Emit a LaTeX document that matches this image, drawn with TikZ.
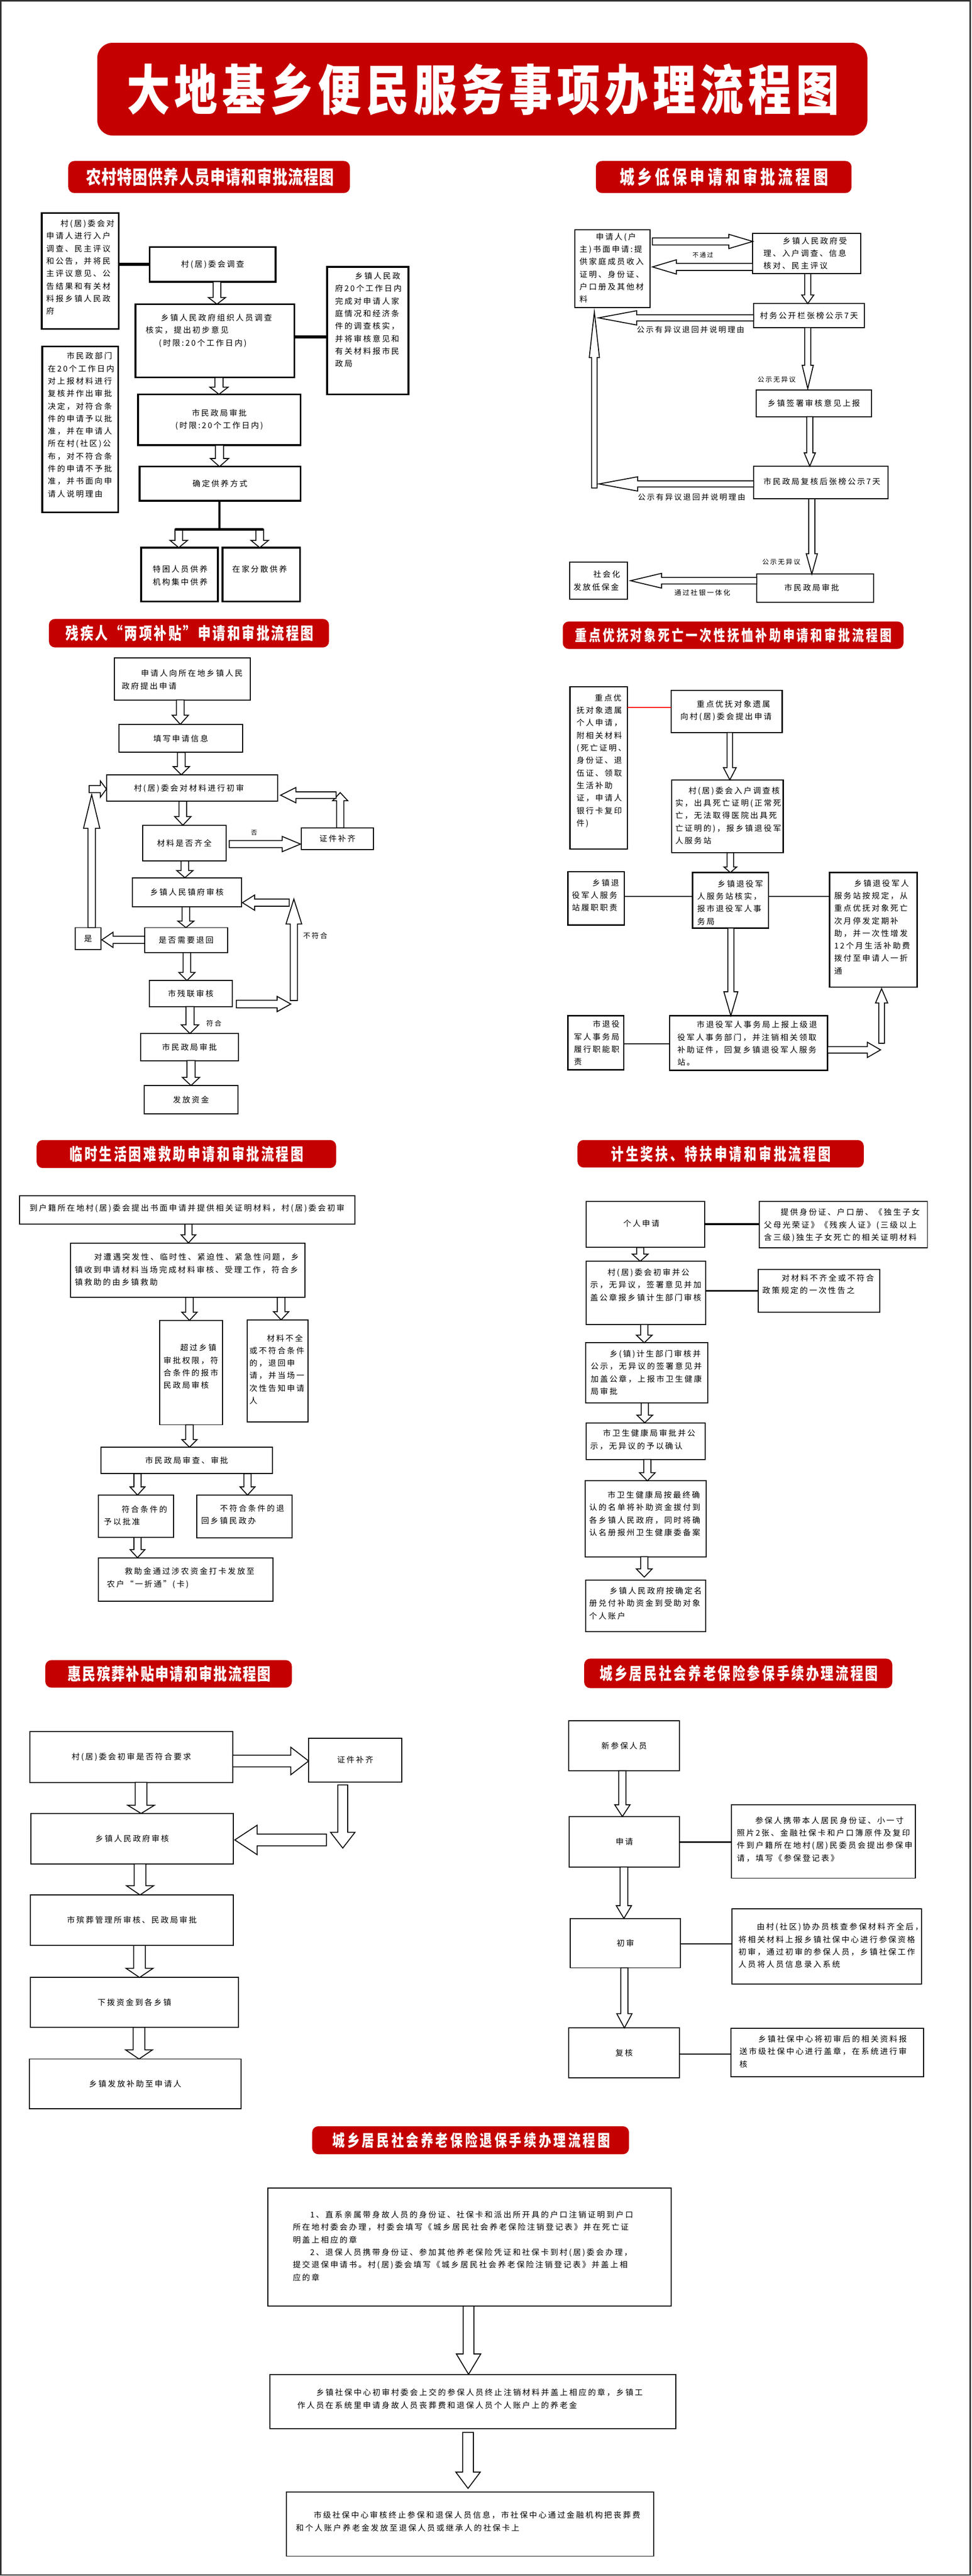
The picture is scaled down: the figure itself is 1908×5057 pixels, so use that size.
\documentclass[tikz,border=0pt]{standalone}
\usepackage{graphicx}
\usepackage{fontspec}
\setmainfont{Noto Sans CJK SC}
\newfontfamily\bodyf{Noto Sans CJK SC}[LetterSpace=18.7]
\newfontfamily\headf{Noto Sans CJK SC}
\usetikzlibrary{calc}
\definecolor{bred}{RGB}{196,0,0}
\definecolor{framec}{RGB}{50,50,50}
\newcommand\bodyfont{\bodyf\fontsize{15.5}{24.6}\selectfont}
\newcommand\lblfont[1]{\bodyf\fontsize{#1}{#1}\selectfont}
\def\spreadit#1{\spreadA#1\relax}
\def\spreadA#1{#1\spreadB}
\def\spreadB#1{\ifx\relax#1\else\hfil#1\expandafter\spreadB\fi}
\tikzset{
  box/.style={draw, line width=2pt, fill=white, inner sep=0pt, outer sep=0pt, anchor=north west, font=\bodyfont, align=center},
  box1/.style={line width=3.5pt},
  box4/.style={line width=2.5pt},
  txt/.style={inner sep=0pt, outer sep=0pt, align=left, anchor=north west, font=\bodyfont},
  lbl/.style={inner sep=0pt, outer sep=0pt},
  banner/.style={fill=bred, draw=none, rounded corners=12pt, inner sep=0pt, outer sep=0pt, anchor=north west},
  harrow/.style={draw=black, fill=white, line width=1.8pt, line join=miter},
  thickline/.style={line width=6pt},
  midline/.style={line width=3.5pt},
  thinline/.style={line width=2pt}
}
\newcommand\bx[7][]{\node[box,#1,minimum width={#5-#3},minimum height={#6-#4}] (#2) at (#3,#4) {#7};}
\newcommand\tx[3]{\node[txt] at (#1,{#2-8}) {\rule{0pt}{0.88em}#3};}
\newcommand\banner[6][]{\node[banner,#1,minimum width={#5-#3},minimum height={#6-#4}] (#2) at (#3,#4) {};}
\newcommand\btitle[6]{%
  \pgfmathsetlengthmacro\bw{(#2-#1)/#5}%
  \node[text=white, inner sep=0pt] at ({(#1+#2)/2},#3) {\scalebox{#5}[1]{\headf\bfseries\fontsize{#4}{#4}\selectfont\makebox[\bw][s]{\spreadit{#6}}}};}
\newcommand\hollow[5]{%
  \coordinate (hS) at #1; \coordinate (hT) at #2;
  \coordinate (hN) at ($(hT)!#5pt!(hS)$);
  \draw[harrow] ($(hS)!#3pt!90:(hT)$) -- ($(hN)!#3pt!90:(hT)$) -- ($(hN)!#4pt!90:(hT)$) -- (hT) -- ($(hN)!#4pt!-90:(hT)$) -- ($(hN)!#3pt!-90:(hT)$) -- ($(hS)!#3pt!-90:(hT)$) -- cycle;}
\begin{document}
\begin{tikzpicture}[x=1pt,y=-1pt]
\useasboundingbox (0,0) rectangle (1908,5057);
\draw[framec, line width=2.5pt] (1.5,1.5) rectangle (1905,5055);

% main title
\banner[rounded corners=30pt]{T0}{191}{84}{1703}{266}
\btitle{249}{1648}{175}{106}{0.8}{大地基乡便民服务事项办理流程图}

% ================= Section 1
\banner{T1}{134}{316}{687}{379}
\btitle{169}{656}{347.5}{37}{0.79}{农村特困供养人员申请和审批流程图}
\bx[box1]{A1}{82}{418}{233}{646}{}
\tx{91}{439}{\hspace*{28pt}村(居)委会对\\申请人进行入户\\调查、民主评议\\和公告，并将民\\主评议意见、公\\告结果和有关材\\料报乡镇人民政\\府}
\bx[box1]{B1}{294}{485}{541}{553}{村(居)委会调查}
\bx[box1]{C1}{266}{597}{578}{741}{}
\tx{286}{624}{\hspace*{30pt}乡镇人民政府组织人员调查\\核实，提出初步意见\\\hspace*{26pt}(时限:20个工作日内)}
\bx[box1]{D1}{642}{524}{802}{774}{}
\tx{658}{542}{\hspace*{39pt}乡镇人民政\\府20个工作日内\\完成对申请人家\\庭情况和经济条\\件的调查核实，\\并将审核意见和\\有关材料报市民\\政局}
\bx[box1]{E1}{83}{680}{232}{1006}{}
\tx{94}{699}{\hspace*{37pt}市民政部门\\在20个工作日内\\对上报材料进行\\复核并作出审批\\决定，对符合条\\件的申请予以批\\准，并在申请人\\所在村(社区)公\\布，对不符合条\\件的申请不予批\\准，并书面向申\\请人说明理由}
\bx[box1]{F1}{271}{774}{590}{874}{市民政局审批\\(时限:20个工作日内)}
\bx[box1]{G1}{274}{916}{590}{983}{确定供养方式}
\bx[box1]{H1}{277}{1075}{428}{1181}{}
\tx{300}{1118}{特困人员供养\\机构集中供养}
\bx[box1]{I1}{437}{1075}{589}{1181}{}
\tx{456}{1117}{在家分散供养}
\draw[thickline] (A1.east|-B1.west) -- (B1.west);
\draw[thickline] (C1.east|-0,661) -- (D1.west|-0,661);
\hollow{(426,0|-B1.south)}{(426,0|-C1.north)}{7.5}{17}{13}
\hollow{(430,0|-C1.south)}{(430,0|-F1.north)}{8}{18}{14}
\hollow{(431,0|-F1.south)}{(431,0|-G1.north)}{8}{18}{16}
\coordinate (bar) at (431,1039);
\coordinate (barL) at (344,1039);
\coordinate (barR) at (517,1039);
\coordinate (sL) at (351,1039);
\coordinate (sR) at (510,1039);
\hollow{(sL)}{(351,0|-H1.north)}{7.5}{17}{14}
\hollow{(sR)}{(510,0|-I1.north)}{7.5}{17}{14}
\draw[line width=4.5pt] (G1.south-|bar) -- (bar);
\draw[line width=4.5pt] (barL) -- (barR);

% ================= Section 2
\banner{T2}{1170}{316}{1672}{379}
\btitle{1217}{1626}{347.5}{37}{0.78}{城乡低保申请和审批流程图}
\bx{A2}{1129}{451}{1276}{604}{}
\tx{1138}{465}{\hspace*{32pt}申请人(户\\主)书面申请:提\\供家庭成员收入\\证明、身份证、\\户口册及其他材\\料}
\bx{B2}{1478}{458}{1690}{537}{}
\tx{1499}{473}{\hspace*{38pt}乡镇人民政府受\\理、入户调查、信息\\核对、民主评议}
\bx{C2}{1480}{596}{1697}{643}{村务公开栏张榜公示7天}
\bx{D2}{1485}{766}{1711}{818}{乡镇签署审核意见上报}
\bx{E2}{1480}{915}{1744}{979}{}
\tx{1499}{946}{市民政局复核后张榜公示7天}
\bx{F2}{1486}{1127}{1715}{1182}{}
\tx{1540}{1154}{市民政局审批}
\bx{G2}{1119}{1103}{1232}{1176}{}
\tx{1126}{1128}{\hspace*{39pt}社会化\\发放低保金}
\hollow{($(A2.east|-0,474)+(5,0)$)}{(B2.west|-0,474)}{7}{14}{47}
\hollow{(B2.west|-0,524)}{($(A2.east|-0,524)+(5,0)$)}{7}{14}{47}
\node[lbl] (L21) at (1380,501) {\lblfont{12}不通过};
\hollow{(1586,0|-B2.south)}{(1586,0|-C2.north)}{6}{12}{17}
\hollow{(1167,958)}{($(1167,0|-A2.south)+(0,8)$)}{5.5}{10}{90}
\hollow{(C2.west|-0,624)}{(1175,624)}{6}{14}{75}
\node[lbl] (L22) at (1356,647) {\lblfont{15}公示有异议退回并说明理由};
\hollow{(1586,0|-C2.south)}{($(1586,0|-D2.north)+(0,-3)$)}{6}{11}{46}
\node[lbl] (L23) at (1525,745) {\lblfont{13}公示无异议};
\hollow{(1590,0|-D2.south)}{(1590,0|-E2.north)}{6}{11}{26}
\hollow{(E2.west|-0,950)}{(1176,950)}{6}{14}{76}
\node[lbl] (L24) at (1358,976) {\lblfont{15}公示有异议退回并说明理由};
\hollow{(1594,0|-E2.south)}{(1594,0|-F2.north)}{6}{11}{40}
\node[lbl] (L25) at (1534,1103) {\lblfont{13}公示无异议};
\hollow{(F2.west|-0,1140)}{($(G2.east|-0,1140)+(6,0)$)}{6.5}{14.5}{61}
\node[lbl] (L26) at (1379,1164) {\lblfont{13.5}通过社银一体化};

% ================= Section 3
\banner{T3}{96}{1215}{646}{1271}
\btitle{129}{616}{1243}{33}{0.77}{残疾人“两项补贴”申请和审批流程图}
\bx{A3}{225}{1292}{492}{1374}{}
\tx{239}{1322}{\hspace*{38pt}申请人向所在地乡镇人民\\政府提出申请}
\bx{B3}{234}{1422}{476}{1477}{填写申请信息}
\bx{C3}{209}{1521}{545}{1573}{}
\tx{263}{1547}{村(居)委会对材料进行初审}
\bx{D3}{280}{1620}{444}{1690}{材料是否齐全}
\bx{E3}{592}{1625}{733}{1668}{证件补齐}
\bx{F3}{260}{1723}{474}{1780}{乡镇人民镇府审核}
\bx{G3}{284}{1821}{447}{1870}{是否需要退回}
\bx{H3}{148}{1821}{198}{1864}{是}
\bx{I3}{293}{1925}{456}{1976}{市残联审核}
\bx{J3}{276}{2029}{468}{2082}{市民政局审批}
\bx{K3}{283}{2131}{467}{2187}{发放资金}
\hollow{(354,0|-A3.south)}{(354,0|-B3.north)}{7.5}{16}{18}
\hollow{(356,0|-B3.south)}{(356,0|-C3.north)}{7.5}{16}{16}
\hollow{(359,0|-C3.south)}{(359,0|-D3.north)}{7.5}{16}{17}
\hollow{($(D3.east)+(6,2)$)}{($(E3.west|-D3.east)+(-2,2)$)}{7}{15}{36}
\node[lbl] (L31) at (499,1635) {\lblfont{12}否};
\hollow{(668,0|-E3.north)}{(668,1556)}{7}{15}{16}
\hollow{(660,1561)}{($(C3.east|-0,1561)+(6,0)$)}{6.5}{15}{30}
\hollow{(363,0|-D3.south)}{(363,0|-F3.north)}{7.5}{16}{14}
\hollow{(365,0|-F3.south)}{(365,0|-G3.north)}{7.5}{16}{13}
\hollow{(G3.west|-0,1845)}{($(H3.east|-0,1845)+(2,0)$)}{7}{15}{22}
\hollow{(180,0|-H3.north)}{(180,1560)}{7.3}{16}{66}
\hollow{(175,1549)}{(C3.west|-0,1549)}{7}{16}{12}
\hollow{(367,0|-G3.south)}{(367,0|-I3.north)}{7.5}{16}{16}
\hollow{(577,1964)}{(577,1765)}{7}{15.5}{49}
\hollow{($(I3.east|-0,1971)+(8,0)$)}{(571,1971)}{7.5}{15}{27}
\hollow{(568,1772)}{($(F3.east|-0,1772)+(2,0)$)}{7}{15}{24}
\node[lbl] (L32) at (619,1837) {\lblfont{14}不符合};
\hollow{(373,0|-I3.south)}{(373,0|-J3.north)}{8}{17}{17}
\node[lbl] (L33) at (420,2009) {\lblfont{13.5}符合};
\hollow{(375,0|-J3.south)}{(375,0|-K3.north)}{8}{17}{16}

% ================= Section 4
\banner{T4}{1105}{1220}{1774}{1274}
\btitle{1129}{1751}{1247}{30}{0.77}{重点优抚对象死亡一次性抚恤补助申请和审批流程图}
\bx[box4]{A4}{1119}{1348}{1232}{1667}{}
\tx{1132}{1370}{\hspace*{36pt}重点优\\抚对象遗属\\个人申请，\\附相关材料\\(死亡证明、\\身份证、退\\伍证、领取\\生活补助\\证，申请人\\银行卡复印\\件)}
\bx[box4]{B4}{1318}{1355}{1536}{1438}{}
\tx{1336}{1382}{\hspace*{32pt}重点优抚对象遗属\\向村(居)委会提出申请}
\bx[box4]{C4}{1319}{1531}{1538}{1674}{}
\tx{1326}{1552}{\hspace*{26pt}村(居)委会入户调查核\\实，出具死亡证明(正常死\\亡，无法取得医院出具死\\亡证明的)，报乡镇退役军\\人服务站}
\bx[box4]{D4}{1360}{1713}{1509}{1822}{}
\tx{1369}{1735}{\hspace*{40pt}乡镇退役军\\人服务站核实，\\报市退役军人事\\务局}
\bx[box4]{E4}{1115}{1711}{1226}{1816}{}
\tx{1123}{1733}{\hspace*{40pt}乡镇退\\役军人服务\\站履职职责}
\bx[box4]{F4}{1629}{1713}{1801}{1938}{}
\tx{1638}{1734}{\hspace*{39pt}乡镇退役军人\\服务站按规定，从\\重点优抚对象死亡\\次月停发定期补\\助，并一次性增发\\12个月生活补助费\\拨付至申请人一折\\通}
\bx[box4]{G4}{1315}{1994}{1625}{2101}{}
\tx{1330}{2012}{\hspace*{38pt}市退役军人事务局上报上级退\\役军人事务部门，并注销相关领取\\补助证件，回复乡镇退役军人服务\\站。}
\bx[box4]{H4}{1115}{1994}{1225}{2100}{}
\tx{1127}{2011}{\hspace*{37pt}市退役\\军人事务局\\履行职能职\\责}
\draw[red, line width=2pt] (A4.east|-0,1389) -- (B4.west|-0,1389);
\draw[thinline] (E4.east|-0,1760) -- (D4.west|-0,1760);
\draw[thinline] (D4.east|-0,1760) -- (F4.west|-0,1760);
\draw[thinline] (H4.east|-0,2049) -- (G4.west|-0,2049);
\hollow{(1433,0|-B4.south)}{(1433,0|-C4.north)}{5.5}{12.5}{24}
\hollow{(1434,0|-C4.south)}{(1434,0|-D4.north)}{6.4}{12.5}{11}
\hollow{(1435,0|-D4.south)}{(1435,0|-G4.north)}{6}{13.7}{47}
\hollow{(1731,2048)}{($(1731,0|-F4.south)+(0,3)$)}{5.5}{12}{28}
\hollow{(G4.east|-0,2061)}{(1729,2061)}{6.4}{15}{26}

% ================= Section 5
\banner{T5}{72}{2238}{660}{2293}
\btitle{137}{596}{2265.5}{33}{0.76}{临时生活困难救助申请和审批流程图}
\bx{A5}{38}{2347}{697}{2403}{}
\tx{58}{2372}{到户籍所在地村(居)委会提出书面申请并提供相关证明材料，村(居)委会初审}
\bx{B5}{139}{2440}{599}{2547}{}
\tx{147}{2468}{\hspace*{38pt}对遭遇突发性、临时性、紧迫性、紧急性问题，乡\\镇收到申请材料当场完成材料审核、受理工作，符合乡\\镇救助的由乡镇救助}
\bx{C5}{314}{2592}{437}{2797}{}
\tx{321}{2646}{\hspace*{33pt}超过乡镇\\审批权限，符\\合条件的报市\\民政局审核}
\bx{D5}{485}{2591}{605}{2791}{}
\tx{490}{2627}{\hspace*{34pt}材料不全\\或不符合条件\\的，退回申\\请，并当场一\\次性告知申请\\人}
\bx{E5}{198}{2841}{535}{2893}{市民政局审查、审批}
\bx{F5}{193}{2935}{341}{3018}{}
\tx{204}{2963}{\hspace*{35pt}符合条件的\\予以批准}
\bx{G5}{386}{2935}{573}{3019}{}
\tx{395}{2961}{\hspace*{37pt}不符合条件的退\\回乡镇民政办}
\bx{H5}{193}{3058}{536}{3143}{}
\tx{210}{3085}{\hspace*{35pt}救助金通过涉农资金打卡发放至\\农户“一折通”(卡)}
\hollow{(370,0|-A5.south)}{(370,0|-B5.north)}{7}{14.5}{16}
\hollow{(372,0|-B5.south)}{(372,0|-C5.north)}{7.5}{15}{16}
\hollow{(552,0|-B5.south)}{(552,0|-D5.north)}{7.5}{15}{16}
\hollow{(372,0|-C5.south)}{(372,0|-E5.north)}{7.5}{15}{15}
\hollow{(270,0|-E5.south)}{(270,0|-F5.north)}{7}{14.6}{16}
\hollow{(486,0|-E5.south)}{(486,0|-G5.north)}{7}{14.6}{16}
\hollow{(270,0|-F5.south)}{(270,0|-H5.north)}{7}{14.6}{16}

% ================= Section 6
\banner{T6}{1134}{2238}{1696}{2292}
\btitle{1200}{1631}{2265}{33}{0.75}{计生奖扶、特扶申请和审批流程图}
\bx{A6}{1151}{2359}{1384}{2449}{}
\tx{1224}{2402}{个人申请}
\bx{B6}{1491}{2359}{1821}{2450}{}
\tx{1500}{2380}{\hspace*{33pt}提供身份证、户口册、《独生子女\\父母光荣证》《残疾人证》(三级以上\\含三级)独生子女死亡的相关证明材料}
\bx{C6}{1151}{2476}{1386}{2600}{}
\tx{1159}{2498}{\hspace*{34pt}村(居)委会初审并公\\示，无异议，签署意见并加\\盖公章报乡镇计生部门审核}
\bx{D6}{1489}{2492}{1727}{2576}{}
\tx{1497}{2509}{\hspace*{38pt}对材料不齐全或不符合\\政策规定的一次性告之}
\bx{E6}{1150}{2636}{1390}{2754}{}
\tx{1160}{2658}{\hspace*{37pt}乡(镇)计生部门审核并\\公示，无异议的签署意见并\\加盖公章，上报市卫生健康\\局审批}
\bx{F6}{1151}{2793}{1385}{2865}{}
\tx{1159}{2814}{\hspace*{25pt}市卫生健康局审批并公\\示，无异议的予以确认}
\bx{G6}{1149}{2907}{1387}{3056}{}
\tx{1157}{2935}{\hspace*{36pt}市卫生健康局按最终确\\认的名单将补助资金拔付到\\各乡镇人民政府，同时将确\\认名册报州卫生健康委备案}
\bx{H6}{1150}{3102}{1386}{3203}{}
\tx{1157}{3123}{\hspace*{40pt}乡镇人民政府按确定名\\册兑付补助资金到受助对象\\个人账户}
\draw[midline] (A6.east|-0,2403) -- (B6.west|-0,2403);
\draw[midline] (C6.east|-0,2534) -- (D6.west|-0,2534);
\hollow{(1257,0|-A6.south)}{(1257,0|-C6.north)}{7}{15.5}{14}
\hollow{(1265,0|-C6.south)}{(1265,0|-E6.north)}{7}{15.5}{15}
\hollow{(1266,0|-E6.south)}{(1266,0|-F6.north)}{7}{15.5}{15}
\hollow{(1271,0|-F6.south)}{(1271,0|-G6.north)}{7}{15.5}{16}
\hollow{(1265,0|-G6.south)}{($(1265,0|-H6.north)+(0,-6)$)}{7}{15.5}{16}

% ================= Section 7
\banner{T7}{89}{3259}{573}{3313}
\btitle{133}{532}{3286}{33}{0.8}{惠民殡葬补贴申请和审批流程图}
\bx{A7}{59}{3399}{457}{3499}{村(居)委会初审是否符合要求}
\bx{B7}{606}{3412}{789}{3498}{证件补齐}
\bx{C7}{61}{3560}{458}{3659}{乡镇人民政府审核}
\bx{D7}{60}{3720}{458}{3819}{市殡葬管理所审核、民政局审批}
\bx{E7}{60}{3882}{468}{3980}{下拨资金到各乡镇}
\bx{F7}{58}{4042}{473}{4140}{乡镇发放补助至申请人}
\hollow{(A7.east|-0,3457)}{(B7.west|-0,3457)}{11.5}{27}{35}
\hollow{($(673,0|-B7.south)+(0,6)$)}{(673,3628)}{9.7}{24}{31}
\hollow{(641,3612)}{($(C7.east|-0,3612)+(3,0)$)}{11.5}{29}{44}
\hollow{(277,0|-A7.south)}{(277,0|-C7.north)}{11.5}{26}{16}
\hollow{(275,0|-C7.south)}{(275,0|-D7.north)}{11.5}{26.5}{18}
\hollow{(274,0|-D7.south)}{(274,0|-E7.north)}{11.5}{26.5}{18}
\hollow{(273,0|-E7.south)}{(273,0|-F7.north)}{11.5}{26.5}{18}

% ================= Section 8
\banner{T8}{1147}{3256}{1752}{3314}
\btitle{1178}{1724}{3285}{33}{0.76}{城乡居民社会养老保险参保手续办理流程图}
\bx{A8}{1117}{3378}{1334}{3476}{新参保人员}
\bx{B8}{1118}{3566}{1334}{3665}{申请}
\bx{C8}{1436}{3543}{1797}{3687}{}
\tx{1447}{3574}{\hspace*{36pt}参保人携带本人居民身份证、小一寸\\照片2张、金融社保卡和户口簿原件及复印\\件到户籍所在地村(居)民委员会提出参保申\\请，填写《参保登记表》}
\bx{D8}{1120}{3766}{1336}{3863}{初审}
\bx{E8}{1437}{3747}{1809}{3895}{}
\tx{1450}{3783}{\hspace*{36pt}由村(社区)协办员核查参保材料齐全后，\\将相关材料上报乡镇社保中心进行参保资格\\初审，通过初审的参保人员，乡镇社保工作\\人员将人员信息录入系统}
\bx{F8}{1117}{3981}{1334}{4079}{复核}
\bx{G8}{1435}{3982}{1813}{4077}{}
\tx{1452}{4003}{\hspace*{37pt}乡镇社保中心将初审后的相关资料报\\送市级社保中心进行盖章，在系统进行审\\核}
\draw[midline] (B8.east|-0,3616) -- (C8.west|-0,3616);
\draw[thinline] (D8.east|-0,3816) -- (E8.west|-0,3816);
\draw[thinline] (F8.east|-0,4032) -- (G8.west|-0,4032);
\hollow{(1222,0|-A8.south)}{(1222,0|-B8.north)}{7}{15}{23}
\hollow{(1225,0|-B8.south)}{(1225,0|-D8.north)}{7.6}{15}{25}
\hollow{(1226,0|-D8.south)}{(1226,0|-F8.north)}{7}{15}{28}

% ================= Section 9
\banner{T9}{613}{4174}{1235}{4229}
\btitle{653}{1198}{4201.5}{32}{0.76}{城乡居民社会养老保险退保手续办理流程图}
\bx{A9}{526}{4295}{1318}{4527}{}
\tx{575}{4348}{\hspace*{34pt}1、直系亲属带身故人员的身份证、社保卡和派出所开具的户口注销证明到户口\\所在地村委会办理，村委会填写《城乡居民社会养老保险注销登记表》并在死亡证\\明盖上相应的章\\\hspace*{34pt}2、退保人员携带身份证、参加其他养老保险凭证和社保卡到村(居)委会办理，\\提交退保申请书。村(居)委会填写《城乡居民社会养老保险注销登记表》并盖上相\\应的章}
\bx{B9}{530}{4661}{1327}{4768}{}
\tx{584}{4697}{\hspace*{37pt}乡镇社保中心初审村委会上交的参保人员终止注销材料并盖上相应的章，乡镇工\\作人员在系统里申请身故人员丧葬费和退保人员个人账户上的养老金}
\bx{C9}{562}{4892}{1283}{5018}{}
\tx{581}{4938}{\hspace*{35pt}市级社保中心审核终止参保和退保人员信息，市社保中心通过金融机构把丧葬费\\和个人账户养老金发放至退保人员或继承人的社保卡上}
\hollow{(920,0|-A9.south)}{(920,0|-B9.north)}{10.5}{24}{40}
\hollow{($(919,0|-B9.south)+(0,7)$)}{($(919,0|-C9.north)+(0,-7)$)}{10.5}{24}{32}
\end{tikzpicture}
\end{document}
